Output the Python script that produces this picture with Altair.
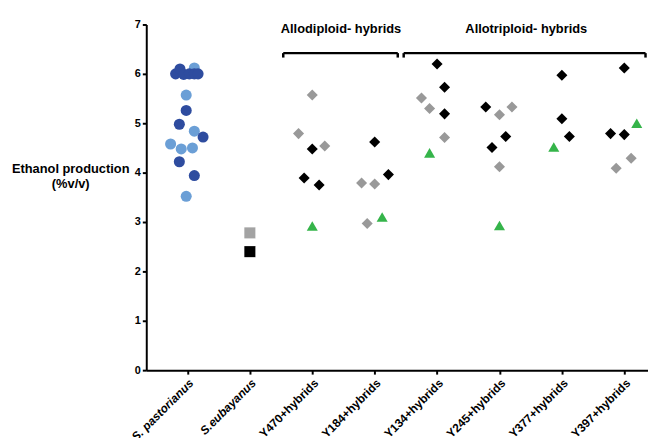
import altair as alt
import pandas as pd

categories = ["S. pastorianus", "S.eubayanus", "Y470+hybrids", "Y184+hybrids",
              "Y134+hybrids", "Y245+hybrids", "Y377+hybrids", "Y397+hybrids"]

# S. pastorianus (category 0)
past_light_y = [6.12, 5.57, 4.84, 4.58, 4.48, 4.50, 3.52]
past_light_dx = [0.11, -0.02, 0.11, -0.27, -0.10, 0.08, -0.02]
past_dark_y = [6.00, 6.10, 5.99, 6.00, 6.00, 6.00, 5.26, 4.98, 4.72, 4.22, 3.94]
past_dark_dx = [-0.19, -0.12, -0.06, 0.03, 0.11, 0.17, -0.02, -0.13, 0.25, -0.13, 0.11]

# S. eubayanus (category 1)
eub_gray_y = [2.78]
eub_black_y = [2.40]

# hybrids: category index -> values
hyb_gray_y = {2: [5.57, 4.79, 4.54], 3: [3.79, 3.77, 2.97], 4: [5.51, 5.30, 4.71],
              5: [5.33, 5.17, 4.12], 6: [], 7: [4.29, 4.09]}
hyb_gray_dx = {2: [0.0, -0.22, 0.20], 3: [-0.21, 0.0, -0.12], 4: [-0.25, -0.12, 0.12],
               5: [0.20, 0.0, 0.0], 6: [], 7: [0.11, -0.13]}
hyb_black_y = {2: [4.48, 3.89, 3.75], 3: [4.62, 3.96], 4: [6.20, 5.73, 5.19],
               5: [5.33, 4.73, 4.51], 6: [5.97, 5.09, 4.73], 7: [6.12, 4.79, 4.77]}
hyb_black_dx = {2: [0.0, -0.13, 0.11], 3: [0.0, 0.22], 4: [0.0, 0.12, 0.12],
                5: [-0.22, 0.10, -0.12], 6: [0.0, 0.0, 0.12], 7: [0.0, -0.22, 0.0]}
hyb_green_y = {2: [2.92], 3: [3.10], 4: [4.40], 5: [2.93], 6: [4.52], 7: [5.00]}
hyb_green_dx = {2: [0.0], 3: [0.12], 4: [-0.12], 5: [0.0], 6: [-0.13], 7: [0.20]}

groups = ["Allodiploid- hybrids", "Allotriploid- hybrids"]
group_x1 = [1.535, 3.465]
group_x2 = [3.37, 7.34]
group_label_x = [2.46, 5.43]

series_names = ["past_light", "past_dark", "eub_gray", "eub_black",
                "hyb_gray", "hyb_black", "hyb_green"]
series_colors = ["#6b9fd6", "#2e4c9f", "#a3a3a3", "#000000",
                 "#999999", "#000000", "#35b44a"]
series_shapes = ["circle", "circle", "square", "square",
                 "diamond", "diamond", "triangle-up"]
series_sizes = [125, 125, 115, 115, 95, 95, 130]

rows = []
def add(cat, ys, dxs, series):
    for v, d in zip(ys, dxs):
        rows.append({"x": cat + d, "y": v, "series": series})

add(0, past_light_y, past_light_dx, "past_light")
add(0, past_dark_y, past_dark_dx, "past_dark")
add(1, eub_gray_y, [0.0], "eub_gray")
add(1, eub_black_y, [0.0], "eub_black")
for c in range(2, 8):
    add(c, hyb_gray_y[c], hyb_gray_dx[c], "hyb_gray")
    add(c, hyb_black_y[c], hyb_black_dx[c], "hyb_black")
    add(c, hyb_green_y[c], hyb_green_dx[c], "hyb_green")
df = pd.DataFrame(rows)

FONT = "Liberation Sans"
x_scale = alt.Scale(domain=[-0.66, 7.38], nice=False, zero=False)
y_scale = alt.Scale(domain=[0, 7], nice=False, zero=True)

label_arr = "[" + ",".join("'" + c + "'" for c in categories) + "]"

points = alt.Chart(df).mark_point(filled=True, opacity=1, strokeWidth=0).encode(
    x=alt.X("x:Q", scale=x_scale, axis=alt.Axis(
        values=list(range(8)), labelExpr=label_arr + "[datum.value]",
        labelAngle=-45, title=None, grid=False, labelPadding=3, labelFontSize=12,
        labelOverlap=False, labelFlush=False,
        labelFontStyle={"condition": {"test": "datum.value <= 1", "value": "italic"}, "value": "normal"})),
    y=alt.Y("y:Q", scale=y_scale, axis=alt.Axis(
        values=list(range(8)), grid=False, title=["Ethanol production", "(%v/v)"],
        titleAngle=0, titleX=-77, titleY=150, titleAlign="center",
        titleBaseline="alphabetic", titleLineHeight=15, titleFontSize=13)),
    color=alt.Color("series:N", scale=alt.Scale(domain=series_names, range=series_colors), legend=None),
    shape=alt.Shape("series:N", scale=alt.Scale(domain=series_names, range=series_shapes), legend=None),
    size=alt.Size("series:N", scale=alt.Scale(domain=series_names, range=series_sizes), legend=None),
)

bdf = pd.DataFrame({"group": groups, "x1": group_x1, "x2": group_x2, "lx": group_label_x})
bdf["top"] = 6.42
bdf["drop"] = 6.33
bdf["ty"] = 6.9

hrule = alt.Chart(bdf).mark_rule(color="black", strokeWidth=2.5).encode(
    x="x1:Q", x2="x2:Q", y="top:Q")
lrule = alt.Chart(bdf).mark_rule(color="black", strokeWidth=2.5).encode(
    x="x1:Q", y="top:Q", y2="drop:Q")
rrule = alt.Chart(bdf).mark_rule(color="black", strokeWidth=2.5).encode(
    x="x2:Q", y="top:Q", y2="drop:Q")
gtext = alt.Chart(bdf).mark_text(font=FONT, fontSize=13, fontWeight="bold", color="black").encode(
    x="lx:Q", y="ty:Q", text="group:N")

chart = alt.layer(hrule, lrule, rrule, gtext, points).properties(
    width=508, height=350,
    autosize=alt.AutoSizeParams(type="none"),
    padding={"left": 140, "top": 14, "right": 0, "bottom": 66},
).configure_view(stroke=None).configure_axis(
    domainColor="black", domainWidth=2, tickColor="black", tickWidth=2, tickSize=4,
    labelFont=FONT, labelFontWeight="bold", labelFontSize=11, labelColor="black",
    titleFont=FONT, titleFontWeight="bold", titleColor="black",
)

chart.save("out.html", embed_options={"renderer": "svg", "actions": False})
